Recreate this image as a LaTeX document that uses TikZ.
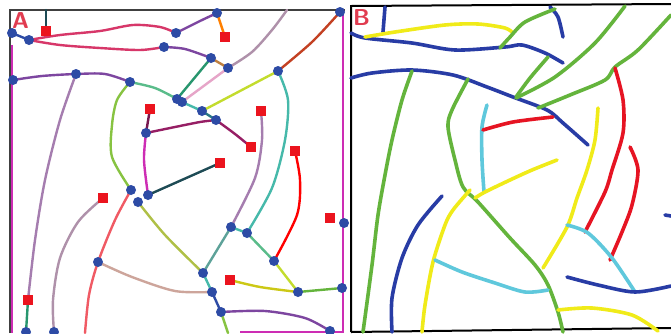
\documentclass[tikz,border=0pt]{standalone}
\usepackage{tikz}
\usetikzlibrary{backgrounds}
\definecolor{dotblue}{RGB}{45,75,165}
\definecolor{sqred}{RGB}{235,20,30}
\definecolor{lblred}{RGB}{225,60,80}
\definecolor{pinkred}{RGB}{215,55,105}
\definecolor{violet}{RGB}{125,70,160}
\definecolor{lilac}{RGB}{165,125,175}
\definecolor{mauve}{RGB}{175,145,170}
\definecolor{tealg}{RGB}{40,150,110}
\definecolor{teal2}{RGB}{70,185,170}
\definecolor{softpink}{RGB}{230,165,200}
\definecolor{leaf}{RGB}{135,195,65}
\definecolor{lime}{RGB}{195,220,45}
\definecolor{rust}{RGB}{195,65,35}
\definecolor{plum}{RGB}{150,30,100}
\definecolor{magen}{RGB}{205,45,180}
\definecolor{darkteal}{RGB}{30,75,85}
\definecolor{salmon}{RGB}{240,90,100}
\definecolor{tan}{RGB}{205,165,155}
\definecolor{bblue}{RGB}{40,60,165}
\definecolor{bgreen}{RGB}{100,180,60}
\definecolor{byellow}{RGB}{240,235,25}
\definecolor{bred}{RGB}{230,20,35}
\definecolor{bcyan}{RGB}{95,200,220}

\begin{document}
\begin{tikzpicture}[x=1pt, y=-1pt,
  jn/.style={circle, fill=dotblue, inner sep=0pt, minimum size=10pt},
  sink/.style={rectangle, fill=sqred, inner sep=0pt, minimum size=10pt},
  edgeA/.style={line width=2.4pt, line cap=round, line join=round},
  lineB/.style={line width=3.6pt, line cap=round, line join=round},
  lbl/.style={font=\sffamily\bfseries\fontsize{23}{23}\selectfont, text=lblred, inner sep=0pt}]
\useasboundingbox (0,0) rectangle (671,333);

\node[jn] (a1) at (12,33) {};
\node[jn] (a2) at (29,40) {};
\node[jn] (a3) at (164,47) {};
\node[jn] (a4) at (176,33) {};
\node[jn] (a5) at (217,13) {};
\node[jn] (a6) at (211,58) {};
\node[jn] (a7) at (228,68) {};
\node[jn] (a8) at (278,71) {};
\node[jn] (a9) at (340,12) {};
\node[jn] (a10) at (13,80) {};
\node[jn] (a11) at (76,74) {};
\node[jn] (a12) at (130,82) {};
\node[jn] (a13) at (177,99) {};
\node[jn] (a13b) at (182,102) {};
\node[jn] (a14) at (202,111) {};
\node[jn] (a15) at (216,120) {};
\node[jn] (a16) at (146,133) {};
\node[jn] (a17) at (131,190) {};
\node[jn] (a18) at (138,202) {};
\node[jn] (a19) at (148,195) {};
\node[jn] (a20) at (98,262) {};
\node[jn] (a21) at (231,227) {};
\node[jn] (a22) at (247,233) {};
\node[jn] (a23) at (274,261) {};
\node[jn] (a24) at (203,273) {};
\node[jn] (a25) at (212,292) {};
\node[jn] (a26) at (221,312) {};
\node[jn] (a27) at (298,292) {};
\node[jn] (a28) at (342,288) {};
\node[jn] (a29) at (344,223) {};
\node[jn] (a30) at (26,332) {};
\node[jn] (a31) at (54,332) {};
\node[jn] (a32) at (330,331) {};
\node[sink] (r1) at (46,31) {};
\node[sink] (r2) at (225,37) {};
\node[sink] (r3) at (150,109) {};
\node[sink] (r4) at (261,111) {};
\node[sink] (r5) at (251,147) {};
\node[sink] (r6) at (295,151) {};
\node[sink] (r7) at (220,163) {};
\node[sink] (r8) at (103,198) {};
\node[sink] (r9) at (28,300) {};
\node[sink] (r10) at (230,280) {};
\node[sink] (r11) at (330,218) {};
\coordinate (t1) at (46,10);
\coordinate (t2) at (287,10);
\coordinate (u1) at (85,333);
\coordinate (u2) at (228,333);
\node[lbl, anchor=north west] (labA) at (12,12) {A};
\node[lbl, anchor=north west] (labB) at (353,9) {B};

\begin{scope}[on background layer]
\fill[white] (0,0) rectangle (671,333);
\draw[magen, line width=2pt] (12,45) -- (12,333);
\draw[magen, line width=2pt] (343,14) -- (343,333);
\draw[magen, line width=2pt] (240,332) -- (343,332);
\draw[black!75, line width=1.6pt] (10,333) -- (10,10) -- (345,10);
\draw[edgeA, dotblue] (a1.center) -- (a2.center);
\draw[edgeA, darkteal] (r1.center) -- (t1);
\draw[edgeA, pinkred] plot[smooth] coordinates {(a2.center) (60,35) (100,31) (133,25) (160,27) (a4.center)};
\draw[edgeA, pinkred] plot[smooth] coordinates {(a2.center) (60,45) (100,48) (140,50) (a3.center)};
\draw[edgeA, violet] plot[smooth] coordinates {(a5.center) (200,21) (a4.center)};
\draw[edgeA, orange] (a5.center) -- (r2.center);
\draw[edgeA, violet] plot[smooth] coordinates {(a3.center) (185,49) (a6.center)};
\draw[edgeA, brown] (a6.center) -- (a7.center);
\draw[edgeA, mauve] plot[smooth] coordinates {(a7.center) (252,52) (272,30) (t2)};
\draw[edgeA, tealg] (a6.center) -- (a13.center);
\draw[edgeA, softpink] (a7.center) -- (a13b.center);
\draw[edgeA, violet] plot[smooth] coordinates {(a10.center) (42,76) (a11.center) (105,74) (a12.center)};
\draw[edgeA, teal2!70!leaf] plot[smooth] coordinates {(a12.center) (155,88) (a13.center)};
\draw[edgeA, teal2] (a13b.center) -- (a14.center);
\draw[edgeA, lime] (a14.center) -- (a8.center);
\draw[edgeA, rust] plot[smooth] coordinates {(a8.center) (312,42) (a9.center)};
\draw[edgeA, teal2] plot[smooth] coordinates {(a8.center) (288,100) (285,140) (272,188) (a22.center)};
\draw[edgeA, tealg!60!dotblue] (a14.center) -- (a15.center);
\draw[edgeA, plum] plot[smooth] coordinates {(a15.center) (235,134) (r5.center)};
\draw[edgeA, plum] plot[smooth] coordinates {(a16.center) (175,127) (200,122) (a15.center)};
\draw[edgeA, plum!80!black] (r3.center) -- (a16.center);
\draw[edgeA, magen] plot[smooth] coordinates {(a16.center) (144,160) (a19.center)};
\draw[edgeA, darkteal] (r7.center) -- (a19.center);
\draw[edgeA, leaf] plot[smooth] coordinates {(a12.center) (117,100) (112,125) (112,157) (a17.center)};
\draw[edgeA, lilac] plot[smooth] coordinates {(a11.center) (60,120) (45,180) (35,240) (r9.center)};
\draw[edgeA, tealg] (r9.center) -- (a30.center);
\draw[edgeA, mauve] plot[smooth] coordinates {(r8.center) (78,222) (60,258) (53,300) (a31.center)};
\draw[edgeA, salmon] plot[smooth] coordinates {(a17.center) (115,220) (a20.center) (89,295) (u1)};
\draw[edgeA, tan] plot[smooth] coordinates {(a20.center) (132,277) (175,291) (a25.center)};
\draw[edgeA, lime!70!gray] plot[smooth] coordinates {(a18.center) (165,235) (a24.center)};
\draw[edgeA, lilac] plot[smooth] coordinates {(r4.center) (262,140) (255,178) (a21.center)};
\draw[edgeA, red] plot[smooth] coordinates {(r6.center) (300,180) (297,215) (a23.center)};
\draw[edgeA, teal2!60!gray] (a24.center) -- (a21.center);
\draw[edgeA, teal2] (a21.center) -- (a22.center);
\draw[edgeA, teal2!70!leaf] (a22.center) -- (a23.center);
\draw[edgeA, lime] (a23.center) -- (a27.center);
\draw[edgeA, byellow!85!black] plot[smooth] coordinates {(r10.center) (260,287) (a27.center)};
\draw[edgeA, bgreen] (a27.center) -- (a28.center);
\draw[edgeA, teal2] (a24.center) -- (a25.center);
\draw[edgeA, dotblue] (a25.center) -- (a26.center);
\draw[edgeA, violet] plot[smooth] coordinates {(a26.center) (265,311) (305,318) (a32.center)};
\draw[edgeA, leaf] (a26.center) -- (u2);

\draw[black, line width=2pt] (351,332) -- (351,6) -- (671,4);
\draw[black, line width=2pt] (351,332) -- (671,328);
\draw[lineB, bblue] (385,7) -- (383,32);
\draw[lineB, bblue] plot[smooth] coordinates {(351,33) (365,38) (412,43) (455,50) (505,47) (522,45) (545,53) (563,63)};
\draw[lineB, bblue] plot[smooth] coordinates {(550,7) (558,17) (563,37)};
\draw[lineB, byellow] plot[smooth] coordinates {(365,37) (395,32) (445,25) (478,24) (505,28) (513,33)};
\draw[lineB, bgreen] plot[smooth] coordinates {(500,48) (510,37) (525,22) (555,9)};
\draw[lineB, bblue] plot[smooth] coordinates {(351,78) (372,73) (412,70) (453,75) (487,87) (513,97) (547,110) (563,123) (588,145)};
\draw[lineB, bgreen] plot[smooth] coordinates {(412,71) (402,100) (392,140) (385,175) (378,215) (372,265) (363,332)};
\draw[lineB, bgreen] plot[smooth] coordinates {(468,79) (452,110) (448,127) (455,160) (463,187) (478,202) (510,238) (535,265) (548,285) (558,312) (563,332)};
\draw[lineB, bcyan] plot[smooth] coordinates {(487,105) (482,127) (482,160) (484,192)};
\draw[lineB, bred] plot[smooth] coordinates {(483,130) (513,122) (553,117)};
\draw[lineB, bgreen] plot[smooth] coordinates {(625,6) (595,43) (555,77) (516,98)};
\draw[lineB, bgreen] plot[smooth] coordinates {(548,57) (530,78) (516,97)};
\draw[lineB, bgreen] plot[smooth] coordinates {(671,15) (638,50) (615,67) (605,80) (570,95) (538,108)};
\draw[lineB, bred] plot[smooth] coordinates {(615,68) (623,100) (623,133) (612,170) (605,192) (585,232)};
\draw[lineB, bred] plot[smooth] coordinates {(630,147) (638,170) (632,205) (622,232) (610,260)};
\draw[lineB, byellow] plot[smooth] coordinates {(598,108) (595,140) (587,170) (577,198) (567,227) (543,268)};
\draw[lineB, byellow] plot[smooth] coordinates {(557,160) (532,170) (510,180) (485,192) (475,198)};
\draw[lineB, byellow] plot[smooth] coordinates {(470,190) (453,210) (445,225) (433,262) (425,305) (422,332)};
\draw[lineB, bblue] plot[smooth] coordinates {(442,196) (418,225) (402,258) (392,298) (392,332)};
\draw[lineB, bcyan] plot[smooth] coordinates {(435,260) (462,272) (495,283) (525,292) (548,290)};
\draw[lineB, bcyan] plot[smooth] coordinates {(567,225) (588,233) (612,258) (635,292)};
\draw[lineB, bblue] plot[smooth] coordinates {(567,277) (598,285) (635,292) (671,286)};
\draw[lineB, bblue] (665,215) -- (671,216);
\draw[lineB, byellow] plot[smooth] coordinates {(558,310) (592,308) (632,315) (658,331)};
\end{scope}
\end{tikzpicture}
\end{document}
